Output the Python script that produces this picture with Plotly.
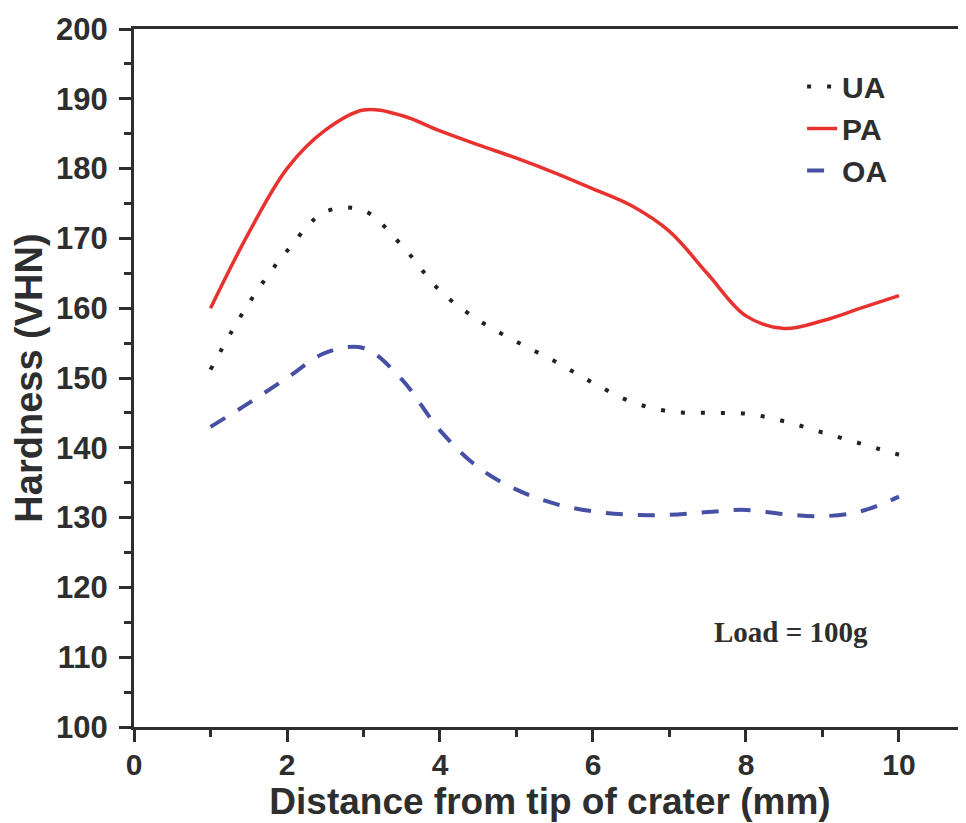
import plotly.graph_objects as go

# Distance from tip of crater (mm)
distance = [1, 1.5, 2, 2.5, 3, 3.5, 4, 4.5, 5, 5.5, 6, 6.5, 7, 7.5, 8, 8.5, 9, 9.5, 10]

# Hardness (VHN)
ua = [151.2, 160.7, 168.2, 173.8, 174.0, 169.0, 162.5, 158.3, 155.2, 152.4, 149.3,
      146.6, 145.2, 145.0, 144.9, 143.8, 142.2, 140.6, 139.0]
pa = [160.0, 170.8, 180.0, 185.5, 188.4, 187.6, 185.4, 183.4, 181.5, 179.4, 177.1,
      174.7, 171.0, 164.9, 158.9, 157.1, 158.2, 160.0, 161.8]
oa = [143.0, 146.4, 150.0, 153.6, 154.3, 149.8, 142.5, 137.2, 134.0, 132.0, 130.9,
      130.4, 130.4, 130.8, 131.1, 130.5, 130.2, 130.9, 133.0]

series_names = ["UA", "PA", "OA"]
x_ticks = [0, 2, 4, 6, 8, 10]
y_ticks = [100, 110, 120, 130, 140, 150, 160, 170, 180, 190, 200]

FONT = "Liberation Sans, Arial, sans-serif"
INK = "#2e2e2e"

fig = go.Figure()
fig.add_trace(go.Scatter(x=distance, y=ua, name=series_names[0], mode="lines",
                         line=dict(color="#222222", width=4, dash="4px,16px", shape="spline", smoothing=1.0)))
fig.add_trace(go.Scatter(x=distance, y=pa, name=series_names[1], mode="lines",
                         line=dict(color="#e8322f", width=3.5, shape="spline", smoothing=1.0)))
fig.add_trace(go.Scatter(x=distance, y=oa, name=series_names[2], mode="lines",
                         line=dict(color="#4651a6", width=4, dash="17px,15px", shape="spline", smoothing=1.0)))

fig.update_layout(
    width=958, height=815,
    margin=dict(l=126, r=0, t=21, b=96),
    paper_bgcolor="white", plot_bgcolor="white",
    font=dict(family=FONT, color=INK),
    showlegend=True,
    legend=dict(x=0.803, y=0.955, xanchor="left", yanchor="top",
                bgcolor="rgba(0,0,0,0)",
                font=dict(family=FONT, size=30, color=INK, weight="bold")),
    annotations=[dict(text="<b>Load = 100g</b>", xref="paper", yref="paper",
                      x=0.790, y=0.136, xanchor="center", yanchor="middle",
                      showarrow=False,
                      font=dict(family="Liberation Serif, Times New Roman, serif", size=29, color=INK))],
)

fig.update_xaxes(
    range=[0, 10.876], tickvals=x_ticks, ticktext=[str(v) for v in x_ticks],
    showgrid=False, zeroline=False,
    showline=True, linecolor=INK, linewidth=3, mirror=True,
    ticks="outside", ticklen=12, tickwidth=3, tickcolor=INK, ticklabelstandoff=-3,
    minor=dict(dtick=1, tick0=0, ticks="outside", ticklen=7, tickwidth=2.5, tickcolor=INK, showgrid=False),
    tickfont=dict(family=FONT, size=30, color=INK, weight="bold"),
    title=dict(text="Distance from tip of crater (mm)", standoff=9,
               font=dict(family=FONT, size=37, color=INK, weight="bold")),
)
fig.update_yaxes(
    range=[100, 200], tickvals=y_ticks, ticktext=[str(v) for v in y_ticks],
    showgrid=False, zeroline=False,
    showline=True, linecolor=INK, linewidth=3,
    ticks="outside", ticklen=12, tickwidth=3, tickcolor=INK, ticklabelstandoff=5,
    minor=dict(dtick=5, tick0=100, ticks="outside", ticklen=7, tickwidth=2.5, tickcolor=INK, showgrid=False),
    tickfont=dict(family=FONT, size=31, color=INK, weight="bold"),
    title=dict(text="Hardness (VHN)", standoff=8,
               font=dict(family=FONT, size=38, color=INK, weight="bold")),
)

fig.write_html("out.html")
